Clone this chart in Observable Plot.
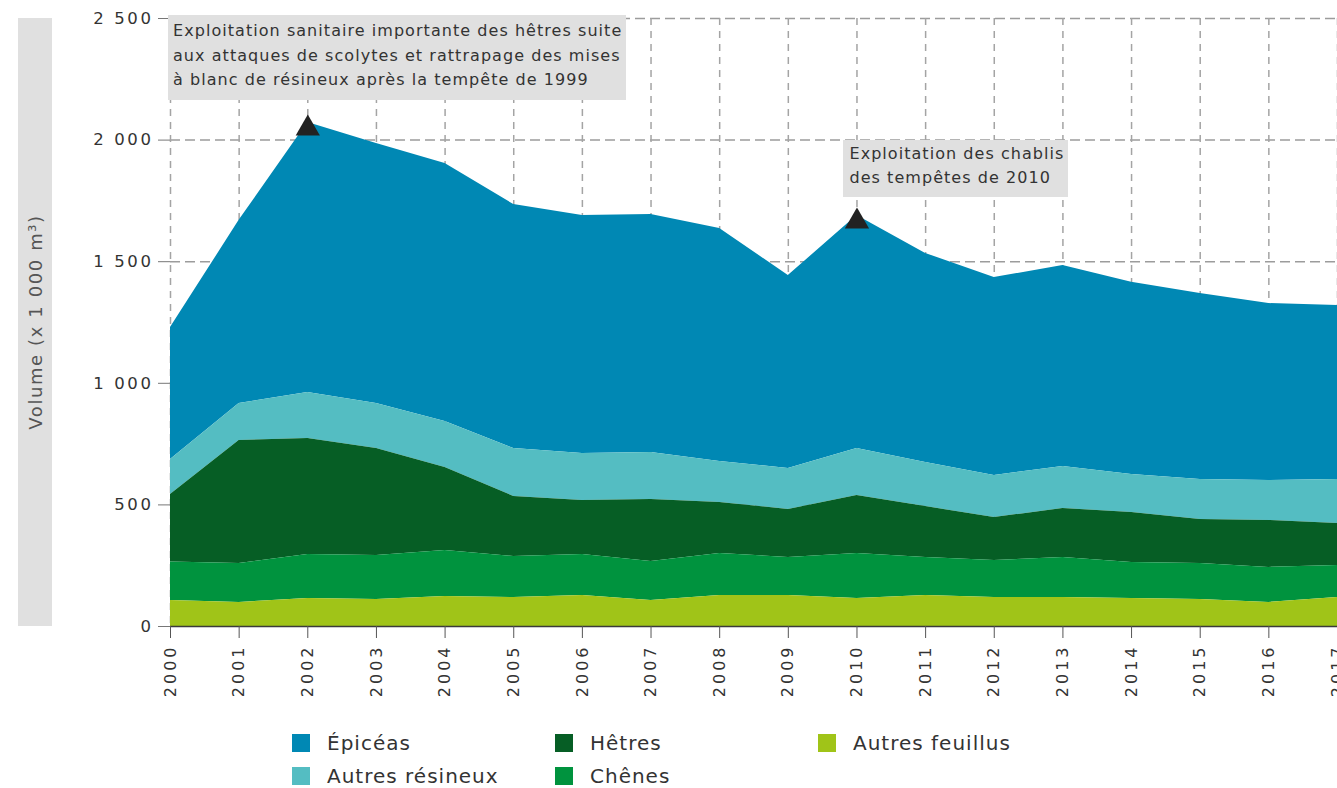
<!DOCTYPE html>
<html><head><meta charset="utf-8">
<script src="https://cdn.jsdelivr.net/npm/d3@7"></script>
<script src="https://cdn.jsdelivr.net/npm/@observablehq/plot@0.6"></script>
<style>
html,body{margin:0;padding:0;background:#fff;overflow:hidden;width:1337px;height:788px;}
#wrap{position:relative;width:1337px;height:788px;font-family:"DejaVu Sans",sans-serif;overflow:hidden;}
#chart{position:absolute;left:0;top:0;}
#chart svg{overflow:hidden;}
#chart [aria-label="y-axis tick label"] text{letter-spacing:2.6px;}
#chart [aria-label="x-axis tick label"] text{letter-spacing:3px;}
.ylab{position:absolute;background:#e0e0e0;}
.ylab span{position:absolute;left:50%;top:50%;transform:translate(-50%,-50%) rotate(-90deg);white-space:nowrap;font-size:18px;letter-spacing:1.6px;color:#555;}
.note{position:absolute;background:#e0e0e0;color:#333;font-size:16px;letter-spacing:1.05px;line-height:24.5px;white-space:nowrap;}
.leg{position:absolute;font-size:20px;letter-spacing:1px;color:#333;white-space:nowrap;line-height:24px;}
.leg i{position:absolute;left:-35px;top:3px;width:18px;height:18px;}
</style>
</head><body>
<div id="wrap"><div id="chart"></div></div>
<script>
// ---- Data (volumes, x 1 000 m³) ----
const years = [2000,2001,2002,2003,2004,2005,2006,2007,2008,2009,2010,2011,2012,2013,2014,2015,2016,2017];
const epiceas        = [542,753,1110,1069,1061,1003,979,979,959,793,958,860,814,826,790,765,728,716];
const autresResineux = [144,152,189,185,189,197,193,193,168,169,193,181,173,173,156,164,164,180];
const hetres         = [278,506,477,440,342,247,222,255,210,197,239,209,177,201,206,181,193,173];
const chenes         = [158,160,181,181,189,169,169,160,173,157,185,157,152,165,148,148,144,132];
const autresFeuillus = [107,99,115,111,123,119,127,107,127,127,115,127,119,119,115,111,99,119];

const species = ["Épicéas","Autres résineux","Hêtres","Chênes","Autres feuillus"];
const seriesValues = [epiceas, autresResineux, hetres, chenes, autresFeuillus];
const colors = ["#0088b4","#54bdc2","#065e25","#00933e","#a0c418"];
const stackOrder = ["Autres feuillus","Chênes","Hêtres","Autres résineux","Épicéas"];
const yTicks = [0,500,1000,1500,2000,2500];
const yTitle = "Volume (x 1 000 m³)";

const annotationYears = [2002, 2010];
const annotationTexts = [
  ["Exploitation sanitaire importante des hêtres suite","aux attaques de scolytes et rattrapage des mises","à blanc de résineux après la tempête de 1999"],
  ["Exploitation des chablis","des tempêtes de 2010"]
];

// ---- Build table ----
const table = [];
species.forEach((s, i) => years.forEach((y, j) => table.push({year: y, species: s, value: seriesValues[i][j]})));
const totals = years.map((y, j) => seriesValues.reduce((a, arr) => a + arr[j], 0));
const peaks = annotationYears.map(y => ({year: y, total: totals[years.indexOf(y)]}));

const fr = d3.formatLocale({decimal: ",", thousands: " ", grouping: [3], currency: ["", " €"]});
const fmt = fr.format(",");

const W = 1337, H = 715;
const plot = Plot.plot({
  width: W, height: H,
  marginTop: 18, marginBottom: 89, marginLeft: 170, marginRight: 0,
  style: {fontFamily: "DejaVu Sans, sans-serif", fontSize: "16px", color: "#333", background: "#fff"},
  x: {domain: [years[0], years[years.length - 1]]},
  y: {domain: [0, 2500]},
  color: {domain: species, range: colors},
  marks: [
    Plot.ruleY(yTicks.slice(1), {stroke: "#9c9c9c", strokeWidth: 1.5, strokeDasharray: "10,5"}),
    Plot.ruleX(years, {stroke: "#a4a4a4", strokeWidth: 1.5, strokeDasharray: "7,6"}),
    Plot.areaY(table, Plot.stackY({x: "year", y: "value", fill: "species", order: stackOrder})),
    Plot.ruleY([0], {stroke: "#3a3a3a", strokeWidth: 1.5}),
    Plot.axisY({ticks: yTicks, tickFormat: fmt, tickSize: 12, tickPadding: 5, stroke: "#777", fill: "#333", fontSize: 16.5, label: null}),
    Plot.axisX({ticks: years, tickFormat: d => String(d), tickSize: 12, tickPadding: 6, tickRotate: -90, stroke: "#555", fill: "#333", label: null}),
    Plot.dot(peaks, {x: "year", y: "total", symbol: "triangle", r: 9, fill: "#222", stroke: "none", dy: 6})
  ]
});
document.getElementById("chart").appendChild(plot);

const xs = plot.scale("x"), ys = plot.scale("y");
const wrap = document.getElementById("wrap");

// y-axis title box
const yl = document.createElement("div");
yl.className = "ylab";
yl.style.left = "18px";
yl.style.top = ys.apply(2500) + "px";
yl.style.width = "34px";
yl.style.height = (ys.apply(0) - ys.apply(2500)) + "px";
yl.innerHTML = "<span></span>";
yl.querySelector("span").textContent = yTitle;
wrap.appendChild(yl);

// annotation boxes
const notePos = [
  {left: xs.apply(2000) - 2, top: ys.apply(2500) - 3, pad: "4px 4px 7px 5px"},
  {left: xs.apply(2010) - 13, top: ys.apply(2000), pad: "2px 4px 6px 6px"}
];
annotationTexts.forEach((lines, i) => {
  const d = document.createElement("div");
  d.className = "note";
  d.style.left = notePos[i].left + "px";
  d.style.top = notePos[i].top + "px";
  d.style.padding = notePos[i].pad;
  d.innerHTML = lines.map(l => l.replace(/&/g, "&amp;")).join("<br>");
  wrap.appendChild(d);
});

// legend
const legCols = [327, 590, 853], legRows = [731, 764];
species.forEach((s, i) => {
  const c = Math.floor(i / 2), r = i % 2;
  const d = document.createElement("div");
  d.className = "leg";
  d.style.left = legCols[c] + "px";
  d.style.top = legRows[r] + "px";
  d.innerHTML = `<i style="background:${colors[i]}"></i>`;
  d.appendChild(document.createTextNode(s));
  wrap.appendChild(d);
});
</script>
</body></html>
